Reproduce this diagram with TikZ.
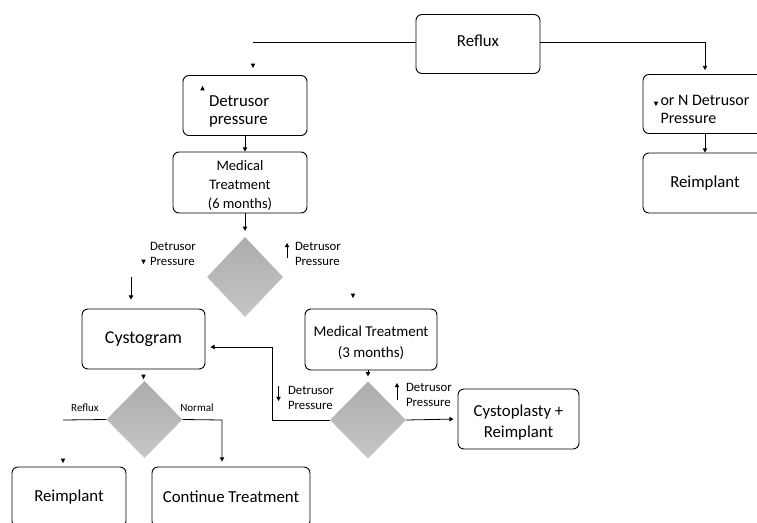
\documentclass[tikz,border=0pt]{standalone}
\usepackage{fontspec}
\setmainfont{Carlito}
\usetikzlibrary{arrows.meta, shapes.geometric, calc}
\definecolor{diadark}{HTML}{ABACAE}
\definecolor{dialight}{HTML}{C5C6C8}
% small loose arrow heads
\newcommand{\tipdown}[1]{\fill (#1) -- ++(-2.3,-4.4) -- ++(4.6,0) -- cycle;}
\newcommand{\tipup}[1]{\fill (#1) -- ++(-2.3,4.4) -- ++(4.6,0) -- cycle;}
% move box text up/down without changing the box
\newcommand{\tshift}[2]{\raisebox{#1}[\height][\depth]{#2}}
\newcommand{\lines}[2][c]{\begin{tabular}{@{}#1@{}}#2\end{tabular}}

\begin{document}
\begin{tikzpicture}[x=1pt, y=-1pt,
    box/.style={draw, rounded corners=6pt, line width=0.9pt, inner sep=2pt,
        align=center, font=\fontsize{16.8}{21}\selectfont},
    dia/.style={diamond, draw=none, inner sep=0pt, minimum width=76pt,
        minimum height=77pt, top color=diadark, bottom color=dialight},
    lbl/.style={align=left, inner sep=0pt, font=\fontsize{12.8}{15.5}\selectfont},
    arr/.style={line width=0.8pt, -{Triangle[width=4.4pt,length=4.2pt]}},
    wire/.style={line width=0.8pt}]
    \useasboundingbox (0,0) rectangle (757,522);
    \clip (0,0) rectangle (757,522);

    % Boxes
    \node[box, minimum width=124pt, minimum height=59pt] (reflux) at (478,44)
        {\tshift{3pt}{Reflux}};
    \node[box, minimum width=124pt, minimum height=60pt, text width=72pt, align=left,
        font=\fontsize{16.8}{18}\selectfont]
        (dpr) at (245,105.5) {\noindent\tshift{-6pt}{\lines[l]{Detrusor\\pressure}}};
    \node[box, minimum width=124pt, minimum height=59pt, font=\fontsize{16}{18}\selectfont]
        (ornd) at (705,104) {\tshift{-6.5pt}{\lines[l]{or N Detrusor\\Pressure}}};
    \node[box, minimum width=124pt, minimum height=60pt] (reimpR) at (705,183) {Reimplant};
    \node[box, minimum width=134pt, minimum height=59pt, font=\fontsize{14.5}{19}\selectfont]
        (mt6) at (240,182.5) {\tshift{-3pt}{\lines{Medical\\Treatment\\(6 months)}}};
    \node[box, minimum width=123pt, minimum height=60pt, font=\fontsize{18}{20}\selectfont]
        (cysto) at (143.5,339) {Cystogram};
    \node[box, minimum width=132pt, minimum height=61pt, font=\fontsize{15}{21}\selectfont]
        (mt3) at (371,339.5) {\tshift{-3pt}{\lines{Medical Treatment\\(3 months)}}};
    \node[box, minimum width=121pt, minimum height=60pt] (cysplas) at (518.5,419)
        {\tshift{-3.5pt}{\lines{Cystoplasty +\\Reimplant}}};
    \node[box, minimum width=114pt, minimum height=60pt] (reimpL) at (69,497) {Reimplant};
    \node[box, minimum width=158pt, minimum height=60pt] (contT) at (231,497)
        {Continue Treatment};

    % Decisions
    \node[dia, minimum height=80pt] (d1) at (245,277) {};
    \node[dia] (d2) at (368,420) {};
    \node[dia] (d3) at (144.5,419.5) {};

    % Loose ends
    \coordinate (lend) at (253,42);
    \coordinate (d1a) at (131,277);
    \coordinate (d3l) at (63,420);
    \coordinate (d3r) at (222,420);
    \coordinate (d2l) at (272,420);

    % Connectors
    \draw[wire] ([yshift=2pt]reflux.west) -- (lend);
    \draw[arr, shorten >=4pt] ([yshift=2pt]reflux.east) -| (ornd.north);
    \draw[arr] (ornd.south) -- (reimpR.north);
    \draw[arr] (dpr.south) -- (dpr.south |- mt6.north);
    \draw[arr, shorten >=6pt] (d1.north |- mt6.south) -- (d1.north);
    \draw[arr, shorten >=9pt] (d1a) -- (d1a |- cysto.north);
    \draw[arr, shorten >=5pt] (d2.west) -- (d2l) |- ([yshift=-8pt]cysto.east);
    \draw[arr, shorten >=5pt] (d2.north |- mt3.south) -- (d2.north);
    \draw[arr, shorten >=4pt] (d2.east) -- (cysplas.west);
    \draw[wire] (d3.west) -- (d3l);
    \draw[arr, shorten >=5pt] (d3.east) -- (d3r) -- (d3r |- contT.north);
    \tipdown{253,68}
    \tipdown{353,298}
    \tipdown{143.5,379}
    \tipdown{63,463}

    % Labels
    \node[lbl] (l1a) at (173,254) {Detrusor\\Pressure};
    \node[lbl] (l1b) at (318,254) {Detrusor\\Pressure};
    \node[lbl] (l2a) at (311,398) {Detrusor\\Pressure};
    \node[lbl] (l2b) at (429,395) {Detrusor\\Pressure};
    \node[lbl, font=\fontsize{11}{13}\selectfont] (l3a) at (85,408) {Reflux};
    \node[lbl, font=\fontsize{11}{13}\selectfont] (l3b) at (197,408) {Normal};
    \tipdown{143.5,264}
    \tipup{202.5,86}
    \tipdown{656,106}
    \draw[arr] (287,258) -- (287,243);
    \draw[arr] (278.5,386) -- (278.5,401);
    \draw[arr] (397,400) -- (397,383);
\end{tikzpicture}
\end{document}
